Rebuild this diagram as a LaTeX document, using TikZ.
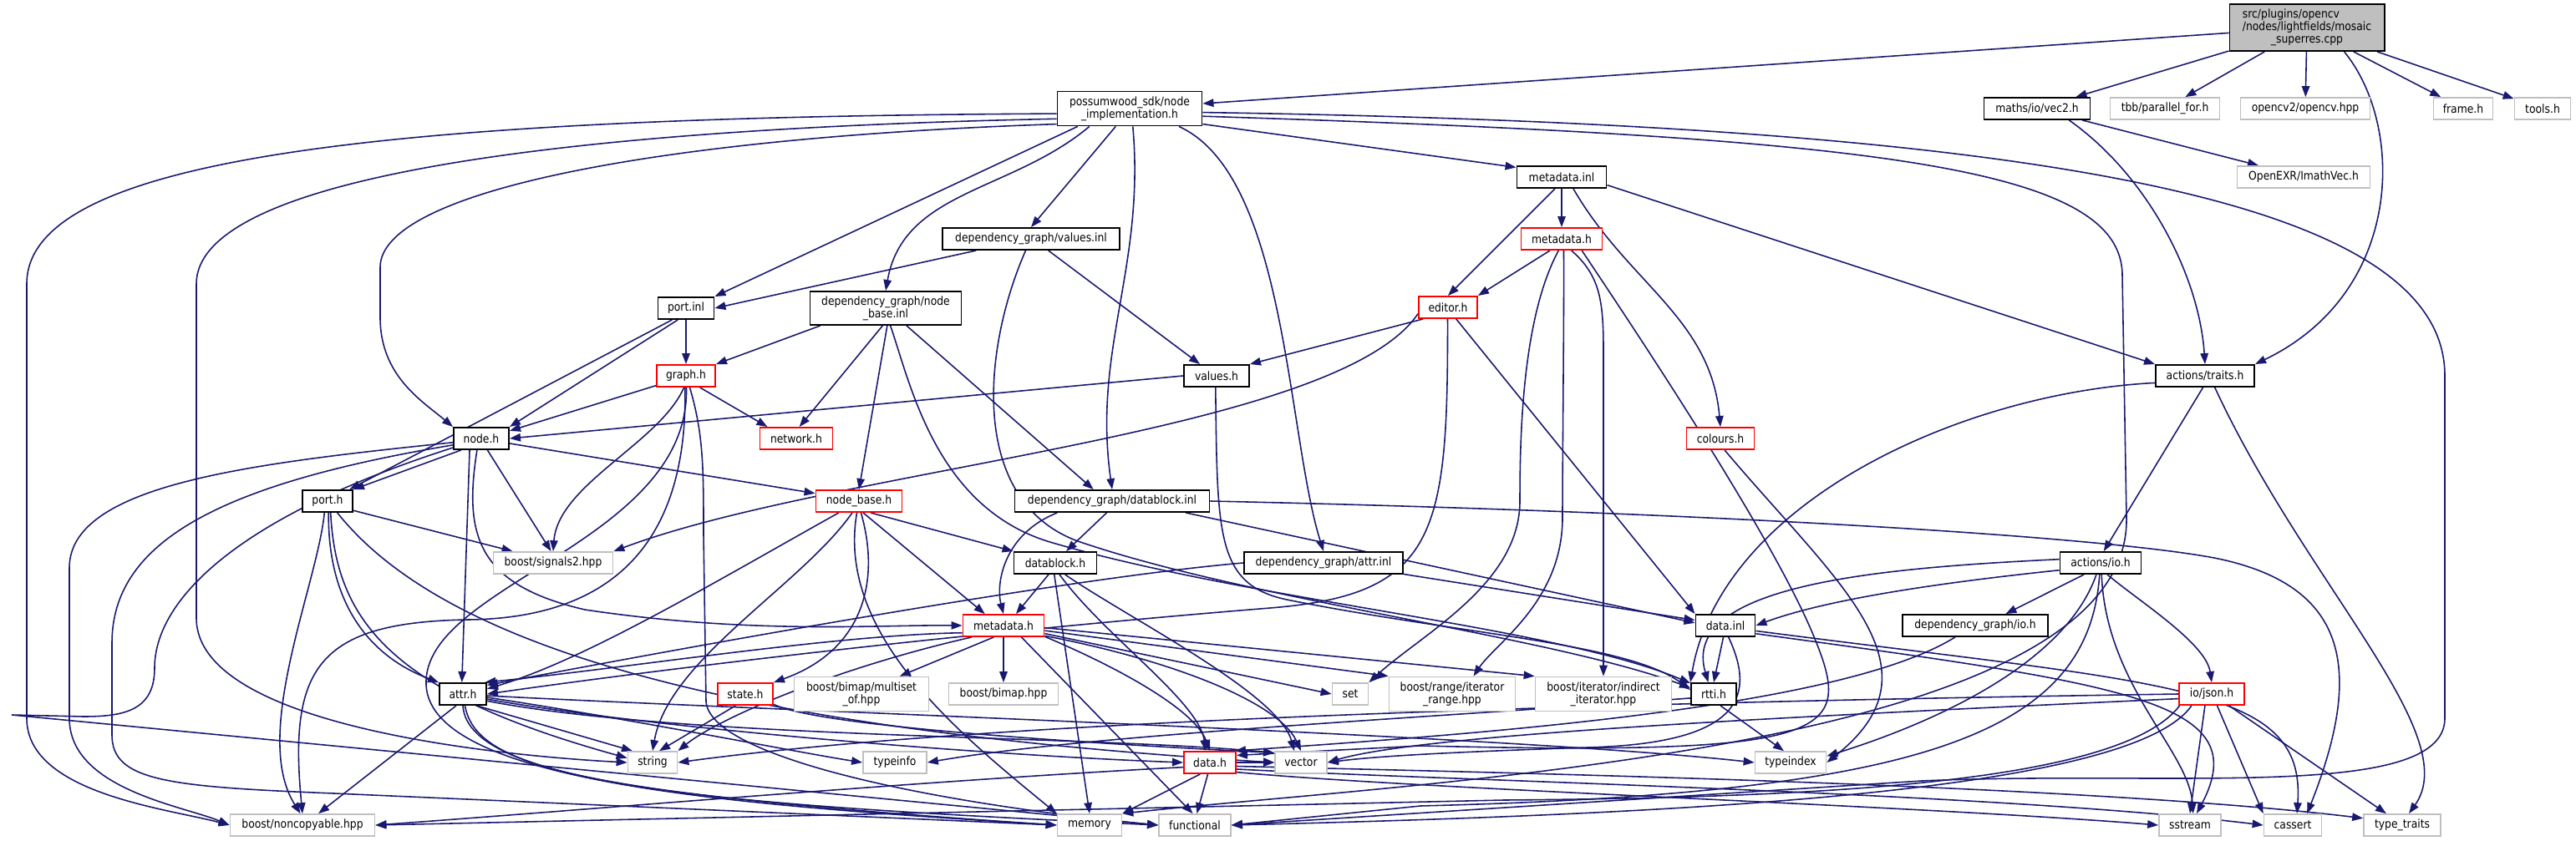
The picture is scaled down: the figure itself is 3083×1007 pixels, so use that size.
\documentclass[tikz,border=0pt]{standalone}
\usepackage{fontspec}
\setmainfont{DejaVu Sans}[FakeStretch=0.88]
\usetikzlibrary{arrows.meta}
\definecolor{edgenavy}{RGB}{25,25,112}
\definecolor{rootfill}{RGB}{191,191,191}
\definecolor{extline}{RGB}{191,191,191}
\definecolor{truncred}{RGB}{255,0,0}
\pgfdeclarelayer{back}
\pgfdeclarelayer{edges}
\pgfsetlayers{back,edges,main}
\tikzset{
  hdrbox/.style={draw=black,line width=1.1pt,fill=white,inner sep=0pt,align=center,
    font=\fontsize{8}{8.4}\selectfont,minimum height=0.52cm},
  redbox/.style={hdrbox,draw=truncred},
  extbox/.style={hdrbox,draw=extline,line width=1pt},
  rootbox/.style={hdrbox,fill=rootfill},
  wd/.style={minimum width=#1*0.02cm},
  ht/.style={minimum height=#1*0.02cm},
  inc/.style={-{Triangle[length=2.6mm,width=1.9mm]},line width=0.9pt,draw=edgenavy}
}

\begin{document}
\begin{tikzpicture}[x=0.02cm,y=-0.02cm]
  \useasboundingbox (0,0) rectangle (3083,1007);
  \begin{pgfonlayer}{back}
    \fill[white] (0,0) rectangle (3083,1007);
  \end{pgfonlayer}

  % files, row by row
  \node[rootbox,wd=185,ht=56] (src) at (2761,33) {\makebox[0pt][l]{src/plugins/opencv}\phantom{/nodes/lightfields/mosaic}\\/nodes/lightfields/mosaic\\\_superres.cpp};
  \node[hdrbox,wd=173,ht=41] (pw) at (1352,130) {possumwood\_sdk/node\\\_implementation.h};
  \node[hdrbox,wd=127] (vec2) at (2438,130) {maths/io/vec2.h};
  \node[extbox,wd=131] (tbb) at (2591,130) {tbb/parallel\_for.h};
  \node[extbox,wd=155] (ocv) at (2759,130) {opencv2/opencv.hpp};
  \node[extbox,wd=71] (frame) at (2948,130) {frame.h};
  \node[extbox,wd=67] (tools) at (3043,130) {tools.h};
  \node[extbox,wd=159] (imath) at (2757,212) {OpenEXR/ImathVec.h};
  \node[hdrbox,wd=107] (mdinl) at (1869,212) {metadata.inl};
  \node[hdrbox,wd=212] (valinl) at (1234,286) {dependency\_graph/values.inl};
  \node[redbox,wd=97] (mdh1) at (1869,286) {metadata.h};
  \node[hdrbox,wd=181,ht=40] (nbinl) at (1060,369) {dependency\_graph/node\\\_base.inl};
  \node[hdrbox,wd=67] (portinl) at (821,369) {port.inl};
  \node[redbox,wd=70] (editor) at (1733,368) {editor.h};
  \node[redbox,wd=70] (graph) at (821,450) {graph.h};
  \node[hdrbox,wd=78] (values) at (1456,450) {values.h};
  \node[hdrbox,wd=118] (traits) at (2639,450) {actions/traits.h};
  \node[hdrbox,wd=66] (nodeh) at (576,525) {node.h};
  \node[redbox,wd=87] (network) at (953,525) {network.h};
  \node[redbox,wd=81] (colours) at (2059,525) {colours.h};
  \node[hdrbox,wd=60] (porth) at (392,600) {port.h};
  \node[redbox,wd=103] (nbh) at (1028,600) {node\_base.h};
  \node[hdrbox,wd=233] (dbinl) at (1331,600) {dependency\_graph/datablock.inl};
  \node[extbox,wd=143] (signals) at (662,674) {boost/signals2.hpp};
  \node[hdrbox,wd=99] (dbh) at (1263,674) {datablock.h};
  \node[hdrbox,wd=190] (attrinl) at (1584,674) {dependency\_graph/attr.inl};
  \node[hdrbox,wd=97] (actio) at (2514,674) {actions/io.h};
  \node[redbox,wd=97] (mdh2) at (1201,749) {metadata.h};
  \node[hdrbox,wd=71] (datainl) at (2065,749) {data.inl};
  \node[hdrbox,wd=174] (dgio) at (2364,749) {dependency\_graph/io.h};
  \node[hdrbox,wd=56] (attrh) at (554,831) {attr.h};
  \node[redbox,wd=66] (state) at (892,831) {state.h};
  \node[extbox,wd=161,ht=41] (multiset) at (1031,831) {boost/bimap/multiset\\\_of.hpp};
  \node[extbox,wd=131] (bimap) at (1201,831) {boost/bimap.hpp};
  \node[extbox,wd=43] (set) at (1616,831) {set};
  \node[extbox,wd=151,ht=41] (itrange) at (1738,831) {boost/range/iterator\\\_range.hpp};
  \node[extbox,wd=163,ht=41] (indirect) at (1919,831) {boost/iterator/indirect\\\_iterator.hpp};
  \node[hdrbox,wd=54] (rtti) at (2051,831) {rtti.h};
  \node[redbox,wd=78] (json) at (2647,831) {io/json.h};
  \node[extbox,wd=59] (string) at (781,913) {string};
  \node[extbox,wd=76] (typeinfo) at (1071,913) {typeinfo};
  \node[redbox,wd=62] (datah) at (1448,913) {data.h};
  \node[extbox,wd=62] (vector) at (1557,913) {vector};
  \node[extbox,wd=85] (typeindex) at (2143,913) {typeindex};
  \node[extbox,wd=173] (noncopy) at (362,988) {boost/noncopyable.hpp};
  \node[extbox,wd=77] (memory) at (1304,988) {memory};
  \node[extbox,wd=86] (functional) at (1430,988) {functional};
  \node[extbox,wd=74] (sstream) at (2621,988) {sstream};
  \node[extbox,wd=69] (cassert) at (2744,988) {cassert};
  \node[extbox,wd=92] (typetraits) at (2875,988) {type\_traits};

  \begin{pgfonlayer}{edges}
  % mosaic_superres.cpp
  \draw[inc] (src) -- (pw);
  \draw[inc] (src) -- (vec2);
  \draw[inc] (src) -- (tbb);
  \draw[inc] (src) -- (ocv);
  \draw[inc] (src) -- (frame);
  \draw[inc] (src) -- (tools);
  \draw[inc] (src.-33) .. controls (2878,150) and (2878,350) .. (traits.north east);
  \draw[inc] (vec2) -- (imath);
  \draw[inc] (vec2.-20) .. controls (2570,210) and (2632,330) .. (traits.north);

  % node_implementation.h
  \draw[inc] (pw.184) .. controls (450,140) and (32,190) .. (32,340) -- (32,860) .. controls (32,950) and (200,968) .. (noncopy.west);
  \draw[inc] (pw.188) .. controls (650,155) and (235,215) .. (235,340) -- (235,740) .. controls (235,870) and (600,905) .. (string.west);
  \draw[inc] (pw.192) .. controls (780,165) and (455,230) .. (455,320) -- (455,380) .. controls (455,450) and (505,480) .. (nodeh.north west);
  \draw[inc] (pw.-161) -- (portinl.north east);
  \draw[inc] (pw.-156) to[out=-140,in=80] (nbinl.north);
  \draw[inc] (pw.-128) -- (valinl.north);
  \draw[inc] (pw.-80) to[out=-85,in=98] (dbinl.north);
  \draw[inc] (pw.-20) .. controls (1540,210) and (1540,520) .. (attrinl.north);
  \draw[inc] (pw.-12) -- (mdinl.168);
  \draw[inc] (pw.-6) .. controls (2250,165) and (2540,200) .. (2540,330) -- (2545,620) .. controls (2550,900) and (1700,935) .. (memory.north east);
  \draw[inc] (pw.-3) .. controls (2450,150) and (2926,240) .. (2926,450) -- (2926,860) .. controls (2926,960) and (2600,922) .. (2300,935) -- (functional.east);

  % metadata.inl and metadata.h
  \draw[inc] (mdinl) -- (mdh1);
  \draw[inc] (mdinl.-120) -- (editor.north);
  \draw[inc] (mdinl.-45) to[out=-60,in=95] (colours.north);
  \draw[inc] (mdinl.-10) -- (traits.north west);
  \draw[inc] (mdh1.-135) -- (editor.north east);
  \draw[inc] (mdh1.-105) .. controls (1822,380) and (1819,520) .. (1819,600) .. controls (1819,700) and (1700,760) .. (set.north east);
  \draw[inc] (mdh1.-80) .. controls (1872,380) and (1870,540) .. (1870,620) .. controls (1870,720) and (1790,770) .. (itrange.40);
  \draw[inc] (mdh1.-50) .. controls (1915,330) and (1919,360) .. (1919,420) -- (indirect.north);
  \draw[inc] (mdh1.-30) .. controls (1960,400) and (2120,640) .. (2170,760) .. controls (2220,880) and (2200,905) .. (1700,893) -- (datah.15);

  % editor.h
  \draw[inc] (editor.-155) -- (values.north east);
  \draw[inc] (editor.-168) .. controls (1600,520) and (1000,560) .. (signals.north east);
  \draw[inc] (editor.-92) .. controls (1733,640) and (1720,712) .. (1520,728) .. controls (1150,758) and (800,800) .. (attrh.east);
  \draw[inc] (editor.-55) -- (datainl.north west);

  % values.inl, port.inl, node_base.inl
  \draw[inc] (valinl.-168) -- (portinl.east);
  \draw[inc] (valinl.-34) -- (values.145);
  \draw[inc] (valinl.-115) .. controls (1175,420) and (1160,600) .. (1290,648) .. controls (1500,720) and (1850,760) .. (rtti.165);
  \draw[inc] (portinl) -- (graph);
  \draw[inc] (portinl.-125) -- (nodeh.north east);
  \draw[inc] (portinl.-140) -- (porth.28);
  \draw[inc] (nbinl.-165) -- (graph.north east);
  \draw[inc] (nbinl.-100) -- (network.75);
  \draw[inc] (nbinl.-85) -- (nbh.north);
  \draw[inc] (nbinl.-75) .. controls (1090,460) and (1120,610) .. (1260,650) .. controls (1500,720) and (1860,750) .. (rtti.155);
  \draw[inc] (nbinl.-40) -- (dbinl.148);

  % values.h, graph.h
  \draw[inc] (values.west) -- (nodeh.east);
  \draw[inc] (values.-95) .. controls (1457,640) and (1455,700) .. (1540,718) .. controls (1750,760) and (1950,770) .. (rtti.170);
  \draw[inc] (graph.-162) -- (nodeh.15);
  \draw[inc] (graph.-40) -- (network.158);
  \draw[inc] (graph.-100) .. controls (790,530) and (668,580) .. (signals.north);
  \draw[inc] (graph.-95) .. controls (823,620) and (760,740) .. (560,742) .. controls (380,745) and (345,800) .. (noncopy.north);
  \draw[inc] (graph.-88) .. controls (826,650) and (505,700) .. (510,820) .. controls (515,940) and (900,965) .. (memory.west);
  \draw[inc] (graph.-72) .. controls (842,520) and (842,560) .. (842,640) -- (845,840) .. controls (850,905) and (1100,960) .. (functional.west);

  % node.h
  \draw[inc] (nodeh.188) .. controls (300,555) and (83,580) .. (83,680) -- (83,860) .. controls (83,945) and (220,965) .. (noncopy.west);
  \draw[inc] (nodeh.193) .. controls (260,580) and (134,650) .. (134,770) -- (134,880) .. controls (134,935) and (200,942) .. (400,950) -- (memory.west);
  \draw[inc] (nodeh.198) .. controls (280,620) and (185,720) .. (185,800) .. controls (185,850) and (150,858) .. (100,858) -- (14,856) -- (functional.west);
  \draw[inc] (nodeh.-150) -- (porth.north east);
  \draw[inc] (nodeh.-62) -- (signals.100);
  \draw[inc] (nodeh.-10) -- (nbh.170);
  \draw[inc] (nodeh.-135) -- (attrh.95);
  \draw[inc] (nodeh.-110) .. controls (555,640) and (570,700) .. (700,730) .. controls (900,760) and (1050,748) .. (mdh2.west);

  % port.h, node_base.h
  \draw[inc] (porth.-20) -- (signals.164);
  \draw[inc] (porth.-85) .. controls (392,720) and (440,785) .. (attrh.north west);
  \draw[inc] (porth.-75) .. controls (402,745) and (470,830) .. (string.170);
  \draw[inc] (porth.-105) .. controls (380,700) and (300,880) .. (noncopy.100);
  \draw[inc] (porth.-50) .. controls (520,760) and (820,870) .. (vector.west);
  \draw[inc] (nbh.-45) -- (dbh.north west);
  \draw[inc] (nbh.-70) -- (mdh2.148);
  \draw[inc] (nbh.-80) .. controls (1055,700) and (1030,780) .. (state.north east);
  \draw[inc] (nbh.-150) .. controls (850,700) and (700,790) .. (attrh.12);
  \draw[inc] (nbh.-120) .. controls (960,700) and (800,790) .. (string.north);
  \draw[inc] (nbh.-100) .. controls (1000,760) and (1150,880) .. (memory.north west);

  % datablock.inl, datablock.h, attr.inl
  \draw[inc] (dbinl.-115) -- (dbh.47);
  \draw[inc] (dbinl.-168) .. controls (1200,640) and (1192,700) .. (mdh2.north);
  \draw[inc] (dbinl.-9) -- (datainl.175);
  \draw[inc] (dbinl.east) .. controls (2000,612) and (2500,640) .. (2650,668) .. controls (2810,700) and (2830,800) .. (cassert.39);
  \draw[inc] (dbh.-120) -- (mdh2.43);
  \draw[inc] (dbh.-95) -- (memory.north);
  \draw[inc] (dbh.-70) .. controls (1320,760) and (1435,840) .. (datah.110);
  \draw[inc] (dbh.-50) .. controls (1350,740) and (1530,830) .. (vector.120);
  \draw[inc] (attrinl.west) .. controls (1300,690) and (900,760) .. (attrh.20);
  \draw[inc] (attrinl.-8) -- (datainl.170);

  % metadata.h (dependency graph)
  \draw[inc] (mdh2.-130) -- (multiset.25);
  \draw[inc] (mdh2) -- (bimap);
  \draw[inc] (mdh2.-33) -- (functional.100);
  \draw[inc] (mdh2.-15) .. controls (1340,800) and (1430,850) .. (datah.north);
  \draw[inc] (mdh2.-14) .. controls (1400,790) and (1530,840) .. (vector.north);
  \draw[inc] (mdh2.-11) -- (set.west);
  \draw[inc] (mdh2.-7) -- (itrange.north west);
  \draw[inc] (mdh2.-3) -- (indirect.north west);
  \draw[inc] (mdh2.190) .. controls (1000,760) and (750,800) .. (attrh.28);
  \draw[inc] (mdh2.200) .. controls (1000,800) and (860,860) .. (string.north east);

  % state.h, attr.h
  \draw[inc] (state.-130) -- (string.60);
  \draw[inc] (state.-20) .. controls (980,870) and (1300,890) .. (vector.160);
  \draw[inc] (attrh.-120) -- (noncopy.36);
  \draw[inc] (attrh.-40) -- (string.150);
  \draw[inc] (attrh.-8) .. controls (750,860) and (950,900) .. (typeinfo.west);
  \draw[inc] (attrh.-12) .. controls (800,875) and (1200,905) .. (datah.west);
  \draw[inc] (attrh.-16) .. controls (820,885) and (1300,880) .. (vector.160);
  \draw[inc] (attrh.-4) .. controls (900,850) and (1800,880) .. (typeindex.west);
  \draw[inc] (attrh.-80) .. controls (570,920) and (700,950) .. (memory.west);
  \draw[inc] (attrh.-90) .. controls (560,945) and (900,965) .. (functional.west);

  % data.h
  \draw[inc] (datah.-130) -- (memory.north east);
  \draw[inc] (datah.-100) -- (functional.80);
  \draw[inc] (datah.east) -- (vector.west);
  \draw[inc] (datah.190) .. controls (1100,935) and (700,970) .. (noncopy.east);
  \draw[inc] (datah.-20) .. controls (1700,945) and (2300,965) .. (sstream.west);
  \draw[inc] (datah.-14) .. controls (1750,935) and (2400,950) .. (cassert.west);
  \draw[inc] (datah.-8) .. controls (1800,925) and (2500,940) .. (typetraits.170);

  % colours.h, actions
  \draw[inc] (colours.-70) .. controls (2200,700) and (2330,800) .. (typeindex.east);
  \draw[inc] (traits.-100) -- (actio.75);
  \draw[inc] (traits.188) .. controls (2350,470) and (2060,600) .. (rtti.north west);
  \draw[inc] (traits.-50) .. controls (2760,700) and (2950,880) .. (typetraits.60);
  \draw[inc] (actio.-145) -- (dgio.21);
  \draw[inc] (actio.175) .. controls (2250,680) and (2010,700) .. (rtti.115);
  \draw[inc] (actio.190) .. controls (2300,700) and (2180,720) .. (datainl.east);
  \draw[inc] (actio.-60) .. controls (2560,720) and (2640,770) .. (json.north);
  \draw[inc] (actio.-110) .. controls (2470,800) and (2300,870) .. (typeindex.10);
  \draw[inc] (actio.-85) .. controls (2520,820) and (2620,900) .. (sstream.75);
  \draw[inc] (actio.-95) .. controls (2500,880) and (2300,950) .. (1700,965) -- (functional.east);

  % data.inl, io.h, rtti.h
  \draw[inc] (datainl.-100) -- (rtti.north);
  \draw[inc] (datainl.-75) .. controls (2100,830) and (2090,890) .. (1900,895) .. controls (1750,900) and (1650,905) .. (vector.east);
  \draw[inc] (datainl.-10) .. controls (2600,820) and (2760,820) .. (cassert.70);
  \draw[inc] (datainl.-15) .. controls (2550,820) and (2700,840) .. (sstream.60);
  \draw[inc] (dgio.-150) .. controls (2200,850) and (1750,880) .. (datah.25);
  \draw[inc] (rtti.-60) -- (typeindex.120);
  \draw[inc] (rtti.190) .. controls (1700,860) and (1300,880) .. (typeinfo.east);

  % io/json.h
  \draw[inc] (json.west) .. controls (2000,840) and (1200,860) .. (string.east);
  \draw[inc] (json.188) .. controls (2100,860) and (1700,880) .. (vector.east);
  \draw[inc] (json.-120) -- (sstream.north);
  \draw[inc] (json.-65) -- (cassert.north west);
  \draw[inc] (json.-34) -- (typetraits.144);
  \draw[inc] (json.-150) .. controls (2550,950) and (2000,975) .. (functional.east);
  \draw[inc] (json.-160) .. controls (2540,935) and (2200,955) .. (1800,958) -- (noncopy.east);
  \end{pgfonlayer}
\end{tikzpicture}
\end{document}
